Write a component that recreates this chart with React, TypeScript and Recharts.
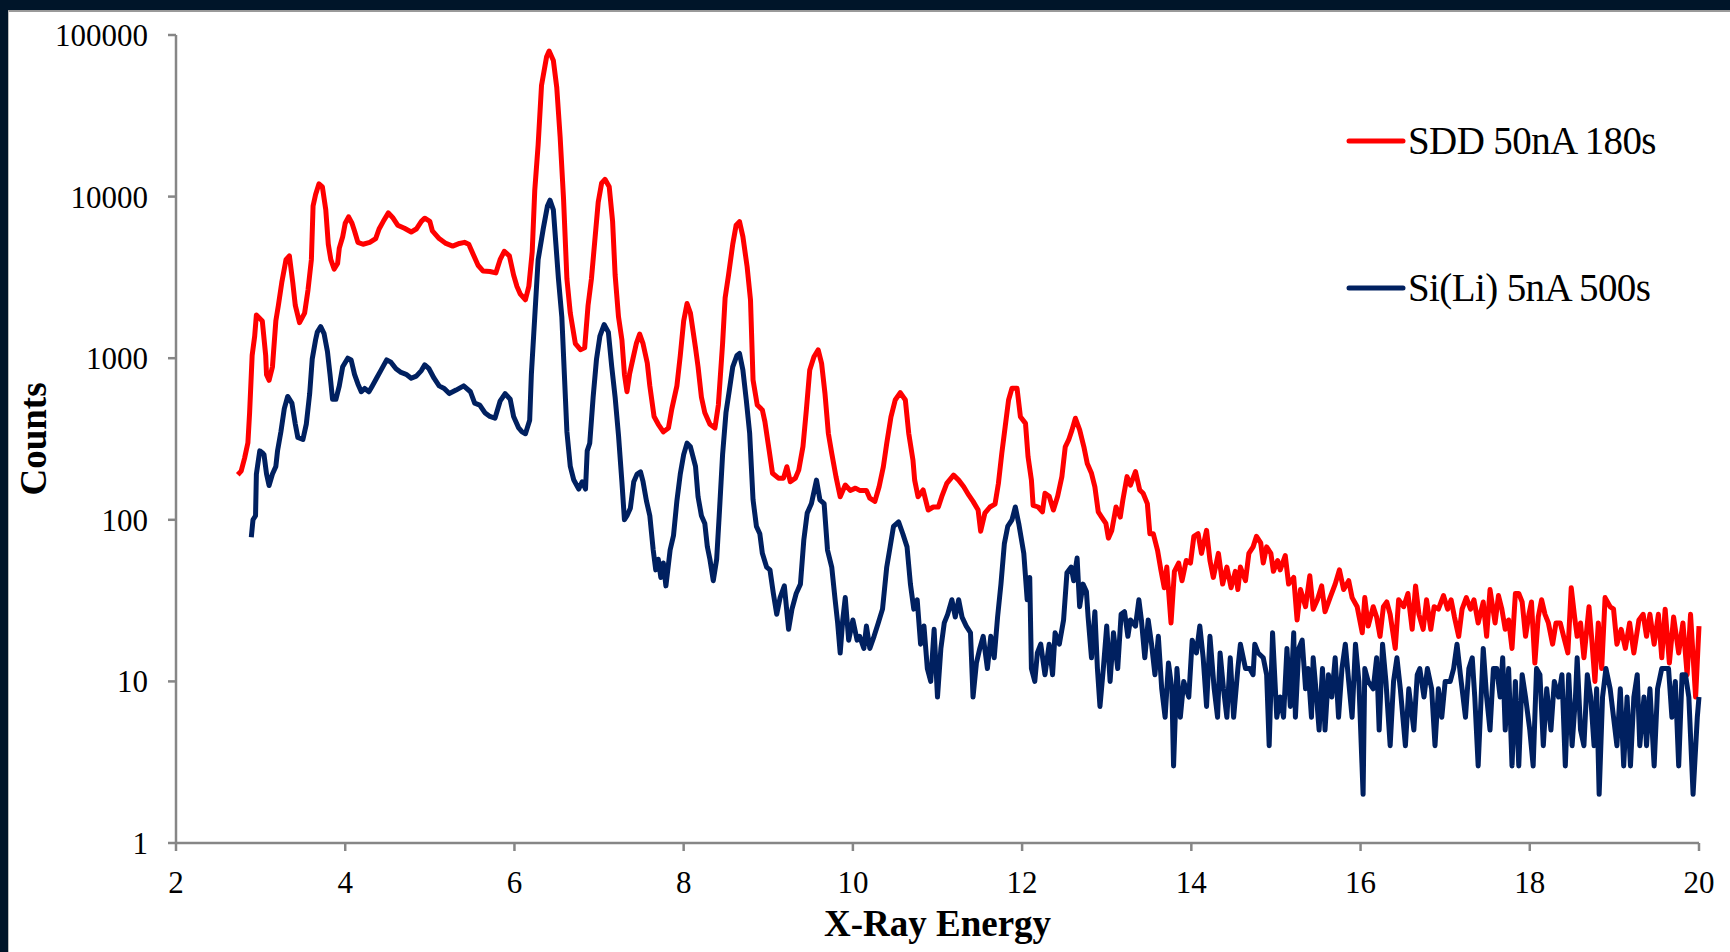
import React from 'react';
import { LineChart, Line, XAxis, YAxis, Legend } from 'recharts';

// Energy (keV) / counts, SDD detector
const sddEnergy = [
  2.73, 2.77, 2.81, 2.85, 2.87, 2.90, 2.93, 2.95, 3.02, 3.06,
  3.07, 3.10, 3.14, 3.18, 3.21, 3.25, 3.30, 3.34, 3.38, 3.41,
  3.46, 3.52, 3.56, 3.60, 3.62, 3.65, 3.69, 3.73, 3.77, 3.80,
  3.83, 3.87, 3.91, 3.93, 3.97, 4.00, 4.04, 4.08, 4.11, 4.15,
  4.21, 4.29, 4.36, 4.40, 4.45, 4.51, 4.56, 4.62, 4.70, 4.78,
  4.84, 4.90, 4.94, 5.00, 5.03, 5.11, 5.19, 5.27, 5.35, 5.41,
  5.46, 5.52, 5.57, 5.63, 5.71, 5.78, 5.83, 5.88, 5.94, 5.99,
  6.03, 6.07, 6.13, 6.17, 6.21, 6.24, 6.28, 6.32, 6.38, 6.41,
  6.46, 6.50, 6.54, 6.58, 6.62, 6.66, 6.72, 6.78, 6.83, 6.87,
  6.91, 6.95, 6.99, 7.03, 7.07, 7.12, 7.16, 7.19, 7.23, 7.27,
  7.30, 7.33, 7.36, 7.40, 7.44, 7.48, 7.52, 7.57, 7.60, 7.65,
  7.70, 7.76, 7.82, 7.86, 7.92, 7.96, 8.00, 8.04, 8.08, 8.14,
  8.17, 8.21, 8.25, 8.31, 8.37, 8.41, 8.46, 8.49, 8.53, 8.58,
  8.62, 8.66, 8.70, 8.75, 8.79, 8.82, 8.87, 8.93, 8.96, 9.01,
  9.05, 9.12, 9.18, 9.22, 9.26, 9.32, 9.36, 9.41, 9.45, 9.49,
  9.54, 9.59, 9.63, 9.67, 9.71, 9.75, 9.80, 9.85, 9.91, 9.97,
  10.03, 10.08, 10.16, 10.20, 10.26, 10.31, 10.36, 10.40, 10.45, 10.50,
  10.56, 10.62, 10.66, 10.71, 10.73, 10.77, 10.83, 10.89, 10.95, 11.01,
  11.05, 11.11, 11.19, 11.25, 11.31, 11.37, 11.42, 11.48, 11.51, 11.56,
  11.62, 11.68, 11.72, 11.76, 11.80, 11.84, 11.88, 11.94, 11.98, 12.04,
  12.07, 12.11, 12.13, 12.19, 12.24, 12.27, 12.32, 12.37, 12.42, 12.47,
  12.51, 12.55, 12.59, 12.63, 12.68, 12.73, 12.77, 12.82, 12.86, 12.90,
  12.94, 12.99, 13.02, 13.06, 13.11, 13.16, 13.19, 13.24, 13.28, 13.34,
  13.39, 13.43, 13.48, 13.51, 13.55, 13.60, 13.64, 13.68, 13.71, 13.76,
  13.80, 13.85, 13.89, 13.94, 13.99, 14.03, 14.08, 14.12, 14.18, 14.22,
  14.26, 14.32, 14.37, 14.42, 14.47, 14.52, 14.55, 14.58, 14.64, 14.68,
  14.73, 14.77, 14.82, 14.85, 14.89, 14.94, 14.97, 15.02, 15.05, 15.11,
  15.15, 15.21, 15.25, 15.29, 15.35, 15.40, 15.44, 15.49, 15.54, 15.58,
  15.64, 15.70, 15.75, 15.80, 15.86, 15.90, 15.96, 16.02, 16.05, 16.09,
  16.15, 16.19, 16.23, 16.27, 16.31, 16.35, 16.41, 16.45, 16.51, 16.56,
  16.61, 16.65, 16.69, 16.74, 16.78, 16.83, 16.87, 16.92, 16.98, 17.03,
  17.07, 17.11, 17.16, 17.20, 17.25, 17.30, 17.34, 17.39, 17.45, 17.49,
  17.53, 17.59, 17.63, 17.67, 17.71, 17.75, 17.79, 17.83, 17.87, 17.91,
  17.95, 17.99, 18.02, 18.06, 18.10, 18.14, 18.18, 18.22, 18.27, 18.31,
  18.36, 18.40, 18.45, 18.49, 18.53, 18.56, 18.60, 18.64, 18.70, 18.73,
  18.77, 18.81, 18.85, 18.89, 18.95, 18.99, 19.03, 19.08, 19.13, 19.18,
  19.23, 19.29, 19.34, 19.38, 19.42, 19.47, 19.52, 19.56, 19.60, 19.65,
  19.70, 19.76, 19.81, 19.86, 19.90, 19.96, 20.00,
];
const sddCounts = [
  190, 200, 240, 300, 460, 1040, 1370, 1850, 1700, 1040,
  790, 730, 885, 1700, 2120, 2940, 4070, 4300, 2940, 2120,
  1660, 1900, 2640, 4070, 8750, 10300, 12000, 11500, 8300, 5070,
  4070, 3560, 3860, 4800, 5650, 6840, 7500, 6840, 6130, 5210,
  5070, 5210, 5500, 6300, 7030, 7930, 7430, 6650, 6370, 6040,
  6300, 7030, 7350, 7030, 6130, 5500, 5130, 4940, 5130, 5210,
  5070, 4300, 3760, 3460, 3440, 3370, 4070, 4590, 4300, 3270,
  2780, 2490, 2300, 2780, 4550, 10900, 20900, 48800, 73300, 79600,
  69500, 47400, 23400, 9750, 3100, 1900, 1230, 1130, 1160, 2120,
  3100, 5350, 9230, 12100, 12800, 11500, 7030, 3270, 1800, 1300,
  795, 620, 795, 990, 1230, 1410, 1230, 935, 674, 436,
  390, 350, 370, 486, 674, 1040, 1700, 2180, 1900, 1160,
  885, 573, 460, 390, 370, 513, 1230, 2360, 3270, 5070,
  6650, 7000, 5650, 3680, 2290, 733, 513, 478, 405, 270,
  194, 181, 181, 213, 172, 181, 203, 284, 478, 845,
  1020, 1125, 930, 606, 343, 258, 185, 139, 164, 152,
  157, 152, 152, 136, 130, 160, 213, 297, 434, 551,
  612, 551, 343, 234, 176, 139, 153, 115, 120, 120,
  139, 168, 189, 176, 160, 142, 130, 115, 85, 110,
  120, 125, 168, 258, 377, 551, 652, 652, 434, 395,
  246, 176, 123, 120, 112, 146, 140, 115, 140, 185,
  283, 312, 360, 425, 360, 283, 223, 194, 160, 112,
  104, 95, 77, 86, 120, 104, 132, 185, 164, 199,
  153, 146, 126, 82, 82, 65, 49, 38, 51, 23,
  48, 54, 42, 56, 54, 79, 82, 62, 86, 56,
  44, 62, 40, 51, 38, 48, 37, 51, 42, 62,
  68, 79, 72, 54, 68, 62, 48, 56, 49, 60,
  40, 44, 24, 37, 29, 45, 28, 32, 39, 27,
  33, 40, 49, 37, 42, 33, 29, 20, 33, 22,
  29, 25, 19, 29, 31, 26, 16, 32, 29, 35,
  21, 39, 26, 21, 32, 21, 29, 28, 34, 28,
  32, 25, 19, 28, 33, 28, 32, 23, 31, 19,
  37, 23, 34, 28, 21, 24, 16, 35, 35, 31,
  19, 26, 31, 13, 25, 32, 26, 23, 17, 23,
  23, 19, 15, 38, 25, 19, 23, 14, 29, 19,
  10, 23, 12, 33, 29, 28, 17, 21, 16, 23,
  15, 24, 26, 19, 26, 17, 26, 14, 28, 13,
  25, 15, 23, 11, 26, 8, 22,
];

// Si(Li) detector
const siliEnergy = [
  2.89, 2.91, 2.94, 2.95, 2.99, 3.02, 3.04, 3.07, 3.10, 3.14,
  3.18, 3.20, 3.24, 3.28, 3.32, 3.37, 3.41, 3.44, 3.50, 3.54,
  3.58, 3.61, 3.65, 3.67, 3.71, 3.75, 3.79, 3.82, 3.85, 3.89,
  3.93, 3.97, 4.03, 4.07, 4.11, 4.15, 4.19, 4.23, 4.28, 4.32,
  4.37, 4.42, 4.49, 4.54, 4.60, 4.66, 4.72, 4.78, 4.84, 4.90,
  4.94, 4.99, 5.05, 5.11, 5.17, 5.23, 5.31, 5.40, 5.48, 5.53,
  5.59, 5.65, 5.71, 5.77, 5.83, 5.89, 5.95, 5.99, 6.05, 6.09,
  6.13, 6.18, 6.20, 6.24, 6.28, 6.34, 6.39, 6.42, 6.46, 6.49,
  6.52, 6.56, 6.59, 6.62, 6.66, 6.70, 6.76, 6.80, 6.84, 6.86,
  6.89, 6.93, 6.97, 7.01, 7.06, 7.11, 7.15, 7.19, 7.23, 7.27,
  7.30, 7.33, 7.37, 7.41, 7.45, 7.49, 7.52, 7.56, 7.60, 7.64,
  7.67, 7.70, 7.73, 7.76, 7.79, 7.84, 7.88, 7.92, 7.96, 8.00,
  8.04, 8.08, 8.14, 8.17, 8.21, 8.25, 8.28, 8.31, 8.35, 8.39,
  8.42, 8.46, 8.50, 8.54, 8.58, 8.63, 8.66, 8.70, 8.74, 8.78,
  8.82, 8.86, 8.90, 8.93, 8.98, 9.02, 9.06, 9.10, 9.14, 9.19,
  9.24, 9.28, 9.33, 9.38, 9.42, 9.46, 9.51, 9.57, 9.61, 9.66,
  9.70, 9.75, 9.79, 9.82, 9.85, 9.88, 9.91, 9.95, 10.00, 10.05,
  10.08, 10.13, 10.16, 10.20, 10.25, 10.30, 10.35, 10.40, 10.44, 10.48,
  10.54, 10.59, 10.64, 10.68, 10.72, 10.76, 10.80, 10.84, 10.88, 10.92,
  10.96, 11.00, 11.04, 11.08, 11.12, 11.17, 11.21, 11.25, 11.29, 11.34,
  11.39, 11.42, 11.46, 11.50, 11.54, 11.59, 11.63, 11.67, 11.71, 11.75,
  11.79, 11.83, 11.88, 11.92, 11.96, 12.02, 12.06, 12.09, 12.11, 12.15,
  12.18, 12.22, 12.27, 12.32, 12.36, 12.39, 12.44, 12.49, 12.53, 12.58,
  12.61, 12.65, 12.68, 12.72, 12.76, 12.78, 12.82, 12.86, 12.89, 12.92,
  12.96, 13.00, 13.04, 13.08, 13.13, 13.17, 13.21, 13.25, 13.28, 13.34,
  13.38, 13.41, 13.45, 13.49, 13.53, 13.57, 13.61, 13.65, 13.69, 13.73,
  13.77, 13.79, 13.83, 13.87, 13.91, 13.97, 14.01, 14.06, 14.10, 14.14,
  14.18, 14.22, 14.27, 14.31, 14.34, 14.38, 14.42, 14.46, 14.50, 14.55,
  14.58, 14.64, 14.69, 14.73, 14.75, 14.79, 14.85, 14.89, 14.92, 14.96,
  15.01, 15.05, 15.09, 15.13, 15.17, 15.21, 15.23, 15.27, 15.31, 15.35,
  15.38, 15.42, 15.44, 15.48, 15.51, 15.55, 15.58, 15.62, 15.66, 15.70,
  15.74, 15.78, 15.82, 15.86, 15.90, 15.94, 15.98, 16.03, 16.05, 16.09,
  16.15, 16.19, 16.22, 16.26, 16.30, 16.35, 16.39, 16.43, 16.47, 16.53,
  16.57, 16.63, 16.67, 16.70, 16.75, 16.79, 16.84, 16.88, 16.92, 16.96,
  17.00, 17.06, 17.10, 17.14, 17.18, 17.24, 17.28, 17.32, 17.35, 17.39,
  17.45, 17.49, 17.53, 17.57, 17.61, 17.65, 17.68, 17.71, 17.75, 17.79,
  17.83, 17.87, 17.91, 17.95, 18.00, 18.04, 18.08, 18.12, 18.16, 18.20,
  18.25, 18.29, 18.34, 18.38, 18.42, 18.46, 18.50, 18.54, 18.56, 18.60,
  18.64, 18.68, 18.72, 18.76, 18.79, 18.82, 18.86, 18.90, 18.95, 18.99,
  19.03, 19.07, 19.11, 19.15, 19.19, 19.23, 19.27, 19.30, 19.35, 19.38,
  19.42, 19.47, 19.51, 19.56, 19.60, 19.64, 19.68, 19.72, 19.76, 19.80,
  19.84, 19.88, 19.93, 19.98, 20.00,
];
const siliCounts = [
  78, 100, 106, 192, 267, 260, 253, 192, 163, 192,
  214, 267, 351, 487, 580, 527, 391, 323, 314, 391,
  604, 988, 1300, 1450, 1570, 1420, 1100, 795, 557, 557,
  674, 885, 1000, 975, 795, 693, 620, 650, 620, 674,
  752, 838, 977, 945, 861, 816, 795, 752, 775, 838,
  910, 861, 752, 674, 650, 604, 635, 674, 620, 527,
  513, 460, 436, 425, 542, 604, 557, 436, 370, 350,
  341, 413, 795, 1800, 4070, 6300, 8750, 9500, 8280, 5070,
  3100, 1800, 795, 351, 214, 177, 155, 172, 155, 267,
  298, 573, 988, 1370, 1615, 1450, 885, 573, 332, 172,
  100, 106, 118, 172, 192, 198, 172, 131, 106, 65,
  49, 57, 44, 54, 39, 65, 80, 131, 192, 253,
  298, 283, 214, 139, 106, 95, 68, 57, 42, 57,
  106, 253, 460, 635, 885, 1040, 1070, 845, 551, 343,
  133, 91, 82, 62, 51, 49, 35, 26, 33, 39,
  21, 28, 35, 40, 75, 110, 126, 176, 133, 126,
  65, 51, 32, 23, 15, 24, 33, 18, 24, 18,
  19, 16, 22, 16, 19, 23, 28, 51, 68, 91,
  97, 82, 68, 40, 28, 32, 17, 22, 12, 10,
  21, 8, 16, 23, 26, 32, 25, 32, 25, 22,
  20, 8, 13, 16, 19, 12, 19, 14, 25, 40,
  71, 91, 100, 120, 95, 62, 32, 44, 12, 10,
  15, 17, 11, 17, 11, 20, 17, 24, 47, 51,
  42, 58, 29, 40, 36, 25, 14, 27, 12, 7,
  12, 22, 10, 20, 12, 26, 27, 19, 24, 22,
  32, 24, 14, 24, 17, 11, 19, 9, 6, 13,
  9, 3, 12, 6, 10, 8, 18, 15, 22, 14,
  7, 19, 9, 6, 15, 9, 6, 14, 6, 12,
  17, 12, 12, 11, 17, 15, 14, 11, 4, 20,
  6, 8, 6, 16, 7, 20, 6, 16, 18, 9,
  12, 6, 14, 8, 5, 12, 5, 11, 8, 14,
  6, 12, 17, 10, 6, 17, 10, 2, 12, 10,
  9, 14, 5, 17, 10, 4, 10, 14, 9, 4,
  9, 5, 11, 12, 8, 12, 9, 4, 9, 6,
  10, 10, 12, 17, 11, 6, 12, 14, 8, 3,
  16, 8, 5, 12, 12, 8, 14, 5, 12, 3,
  10, 3, 11, 8, 5, 3, 12, 11, 4, 9,
  5, 10, 8, 11, 3, 11, 4, 8, 14, 5,
  4, 11, 8, 4, 9, 2, 8, 12, 9, 6,
  4, 9, 3, 8, 3, 8, 11, 4, 8, 4,
  9, 3, 9, 12, 12, 12, 6, 10, 3, 11,
  11, 8, 2, 6, 8,
];

const energyTicks = [2, 4, 6, 8, 10, 12, 14, 16, 18, 20];
const countTicks = [1, 10, 100, 1000, 10000, 100000];

const sddData = sddEnergy.map((e, i) => ({ energy: e, counts: sddCounts[i] }));
const siliData = siliEnergy.map((e, i) => ({ energy: e, counts: siliCounts[i] }));

const FONT = '"Liberation Serif", "Times New Roman", serif';
const AXIS_GRAY = '#868686';

const LegendBox = (props: any) => {
  const { payload } = props;
  return (
    <div style={{ fontFamily: FONT }}>
      {(payload || []).map((entry: any, i: number) => (
        <div
          key={entry.value}
          style={{ display: 'flex', alignItems: 'center', height: 40, marginTop: i === 0 ? 0 : 107.6 }}
        >
          <svg width={60} height={10} style={{ display: 'block' }}>
            <line x1={3} y1={5} x2={57} y2={5} stroke={entry.color} strokeWidth={5} strokeLinecap="round" />
          </svg>
          <span
            style={{
              fontFamily: FONT, fontSize: 39, letterSpacing: -0.6, color: '#000',
              marginLeft: 2, whiteSpace: 'nowrap', lineHeight: '40px',
            }}
          >
            {entry.value}
          </span>
        </div>
      ))}
    </div>
  );
};

export default function App() {
  return (
    <div style={{ position: 'absolute', left: 0, top: 0, width: 1730, height: 952, background: '#001529', overflow: 'hidden' }}>
      <div
        style={{
          position: 'absolute', left: 8, top: 10, width: 1722, height: 942,
          background: '#fff', borderTop: '2px solid #9a9a9a', borderLeft: '1px solid #bdbdbd', boxSizing: 'border-box',
        }}
      />
      <div style={{ position: 'absolute', left: 0, top: 0, fontFamily: FONT }}>
        <LineChart width={1730} height={952} margin={{ top: 35, right: 31, bottom: 9, left: 0 }}>
          <XAxis
            type="number"
            dataKey="energy"
            domain={[2, 20]}
            ticks={energyTicks}
            height={100}
            tickSize={8}
            tickMargin={20}
            axisLine={{ stroke: AXIS_GRAY, strokeWidth: 2.5 }}
            tickLine={{ stroke: AXIS_GRAY, strokeWidth: 2.5 }}
            tick={{ fill: '#000', fontSize: 31, fontFamily: FONT }}
            label={{
              value: 'X-Ray Energy', position: 'insideBottom', offset: 7,
              fontSize: 37, fontWeight: 'bold', fill: '#000', fontFamily: FONT,
            }}
          />
          <YAxis
            type="number"
            scale="log"
            domain={[1, 100000]}
            allowDataOverflow
            ticks={countTicks}
            width={176}
            tickSize={8}
            tickMargin={20}
            tickFormatter={(v: number) => String(v)}
            axisLine={{ stroke: AXIS_GRAY, strokeWidth: 2.5 }}
            tickLine={{ stroke: AXIS_GRAY, strokeWidth: 2.5 }}
            tick={{ fill: '#000', fontSize: 31, fontFamily: FONT }}
            label={{
              value: 'Counts', angle: -90, position: 'insideLeft', offset: 33,
              style: { textAnchor: 'middle' },
              fontSize: 37, fontWeight: 'bold', fill: '#000', fontFamily: FONT,
            }}
          />
          <Legend
            layout="horizontal"
            verticalAlign="middle"
            align="center"
            wrapperStyle={{ top: 120.7, left: 1346, width: 370, fontFamily: FONT }}
            content={<LegendBox />}
          />
          <Line
            data={sddData}
            dataKey="counts"
            name="SDD 50nA 180s"
            type="linear"
            stroke="#ff0000"
            strokeWidth={5}
            strokeLinejoin="round"
            dot={false}
            activeDot={false}
            isAnimationActive={false}
          />
          <Line
            data={siliData}
            dataKey="counts"
            name="Si(Li) 5nA 500s"
            type="linear"
            stroke="#002060"
            strokeWidth={5}
            strokeLinejoin="round"
            dot={false}
            activeDot={false}
            isAnimationActive={false}
          />
        </LineChart>
      </div>
    </div>
  );
}
